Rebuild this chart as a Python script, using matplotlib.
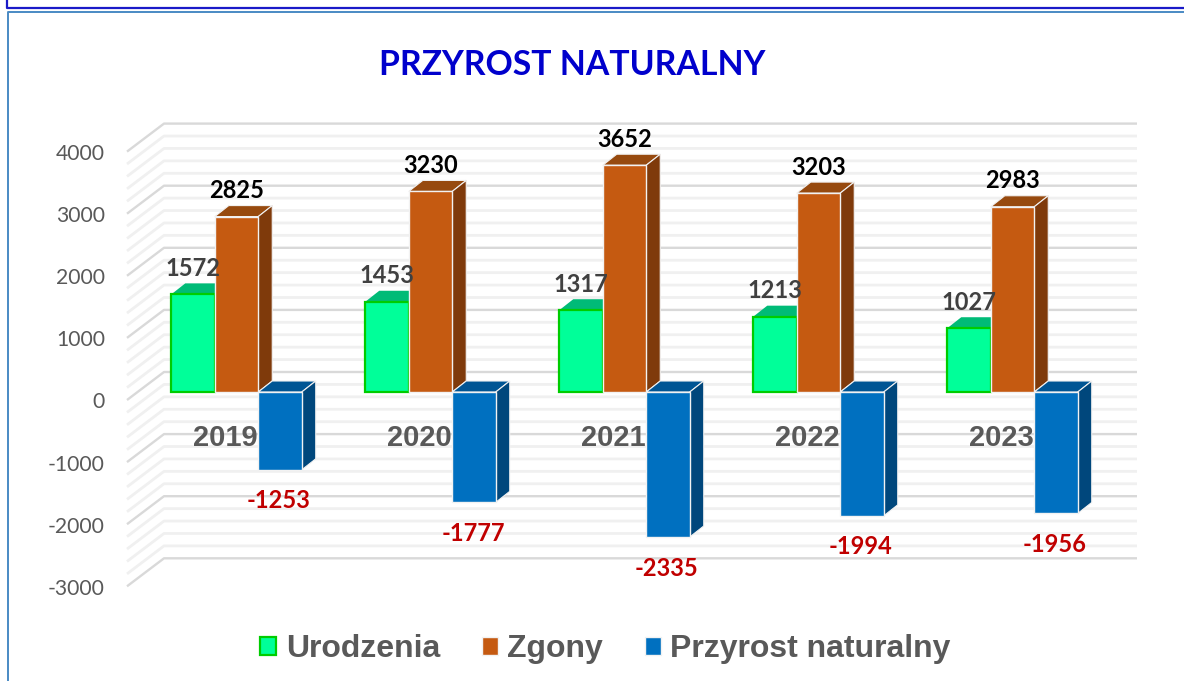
import numpy as np
import matplotlib.pyplot as plt
from matplotlib.patches import Polygon
from matplotlib.lines import Line2D

years = ['2019', '2020', '2021', '2022', '2023']
urodzenia = [1572, 1453, 1317, 1213, 1027]
zgony = [2825, 3230, 3652, 3203, 2983]
przyrost = [-1253, -1777, -2335, -1994, -1956]
yticks = [4000, 3000, 2000, 1000, 0, -1000, -2000, -3000]

W, H = 1184, 681
PX_X = 194.0      # pixels per category
PX_Y = 0.0621     # pixels per unit
X0, Y0 = 236.5, 392.0   # pixel of first group, value 0

fig = plt.figure(figsize=(W / 100, H / 100), dpi=100)
ax = fig.add_axes([0, 0, 1, 1])
ax.set_xlim(-X0 / PX_X, (W - X0) / PX_X)
ax.set_ylim(-(H - Y0) / PX_Y, Y0 / PX_Y)
ax.axis('off')

# px offsets -> data offsets
def ox(p):
    return p / PX_X

def oy(p):
    return p / PX_Y

# outer frames
fig.add_artist(Line2D([7 / W, 7 / W, 1], [1, 1 - 7.5 / H, 1 - 7.5 / H], color='#1a1ac8', lw=1.6,
                      transform=fig.transFigure))
fig.add_artist(Line2D([7.5 / W, 7.5 / W, 1], [0, 1 - 12 / H, 1 - 12 / H], color='#4a8ac4', lw=1.4,
                      transform=fig.transFigure))

# walls: floor lines at the left and grid on the back
left = -X0 / PX_X
for v in np.arange(-3000, 4001, 200):
    major = v % 1000 == 0
    c = '#d9d9d9' if major else '#f0f0f0'
    lw = 1.7 if major else 2.0
    z = 2 if major else 1
    back = v + oy(20)
    front = v - oy(8)
    ax.plot([left + ox(127), left + ox(164), left + ox(1137)],
            [front, back, back], color=c, lw=lw, zorder=z, solid_capstyle='butt')

for v in yticks:
    ax.text(left + ox(105), v - oy(10.5), str(v), ha='right', va='center',
            fontsize=15.2, family='Lato', color='#595959')

x = np.arange(len(years))
bw = 43.5 / PX_X
dx, dy = ox(14), oy(11)

series = [
    (urodzenia, -bw, 'Urodzenia', '#00ff99', '#00cc00', '#00bb77', '#00a866', 1.6),
    (zgony, 0, 'Zgony', '#c55a11', '#f2f2f2', '#974a0f', '#7f3a0b', 1.0),
    (przyrost, bw, 'Przyrost naturalny', '#0070c0', '#f2f2f2', '#005594', '#00477c', 1.0),
]

handles = []
for n, (vals, off, name, face, edge, top, side, elw) in enumerate(series):
    zb = 5 + n
    for xi, v in zip(x + off, vals):
        up = max(v, 0)
        lo = min(v, 0)
        l, r = xi - bw / 2, xi + bw / 2
        ax.add_patch(Polygon([(l, up), (r, up), (r + dx, up + dy), (l + dx, up + dy)],
                             fc=top, ec=edge if n else 'none', lw=0.8, zorder=zb))
        ax.add_patch(Polygon([(r, lo), (r, up), (r + dx, up + dy), (r + dx, lo + dy)],
                             fc=side, ec=edge if n else 'none', lw=0.8, zorder=zb))
    b = ax.bar(x + off, vals, bw, color=face, edgecolor=edge, linewidth=elw, zorder=zb + 0.5, label=name)
    handles.append(b)

# data labels
for xi, v in zip(x - bw, urodzenia):
    ax.text(xi, v + oy(26), str(v), ha='center', va='center', fontsize=17, fontweight='bold',
            family='Lato', color='#404040', zorder=20)
for xi, v in zip(x, zgony):
    ax.text(xi, v + oy(26), str(v), ha='center', va='center', fontsize=17, fontweight='bold',
            family='Lato', color='black', zorder=20)
for xi, v in zip(x + bw, przyrost):
    ax.text(xi - ox(1), v - oy(31), str(v), ha='center', va='center', fontsize=17, fontweight='bold',
            family='Lato', color='#c00000', zorder=20)

# category labels sit on the plot, left of the blue bar
for xi, y in zip(x, years):
    ax.text(xi - ox(11), -oy(46), y, ha='center', va='center', fontsize=21, fontweight='bold',
            family='Liberation Sans', color='#595959', zorder=4)

ax.text(572 / W, 1 - 65 / H, 'PRZYROST NATURALNY', transform=ax.transAxes, ha='center', va='center',
        fontsize=24.3, fontweight='bold', family='Lato', color='#0000cc')

ax.legend(handles=handles, ncol=3, loc='center', bbox_to_anchor=(605.5 / W, 1 - 649 / H), frameon=False,
          prop={'family': 'Liberation Sans', 'weight': 'bold', 'size': 23}, labelcolor='#595959',
          handlelength=0.5, handleheight=0.5, handletextpad=0.3, columnspacing=1.3)

fig.savefig('out.png', dpi=100)
